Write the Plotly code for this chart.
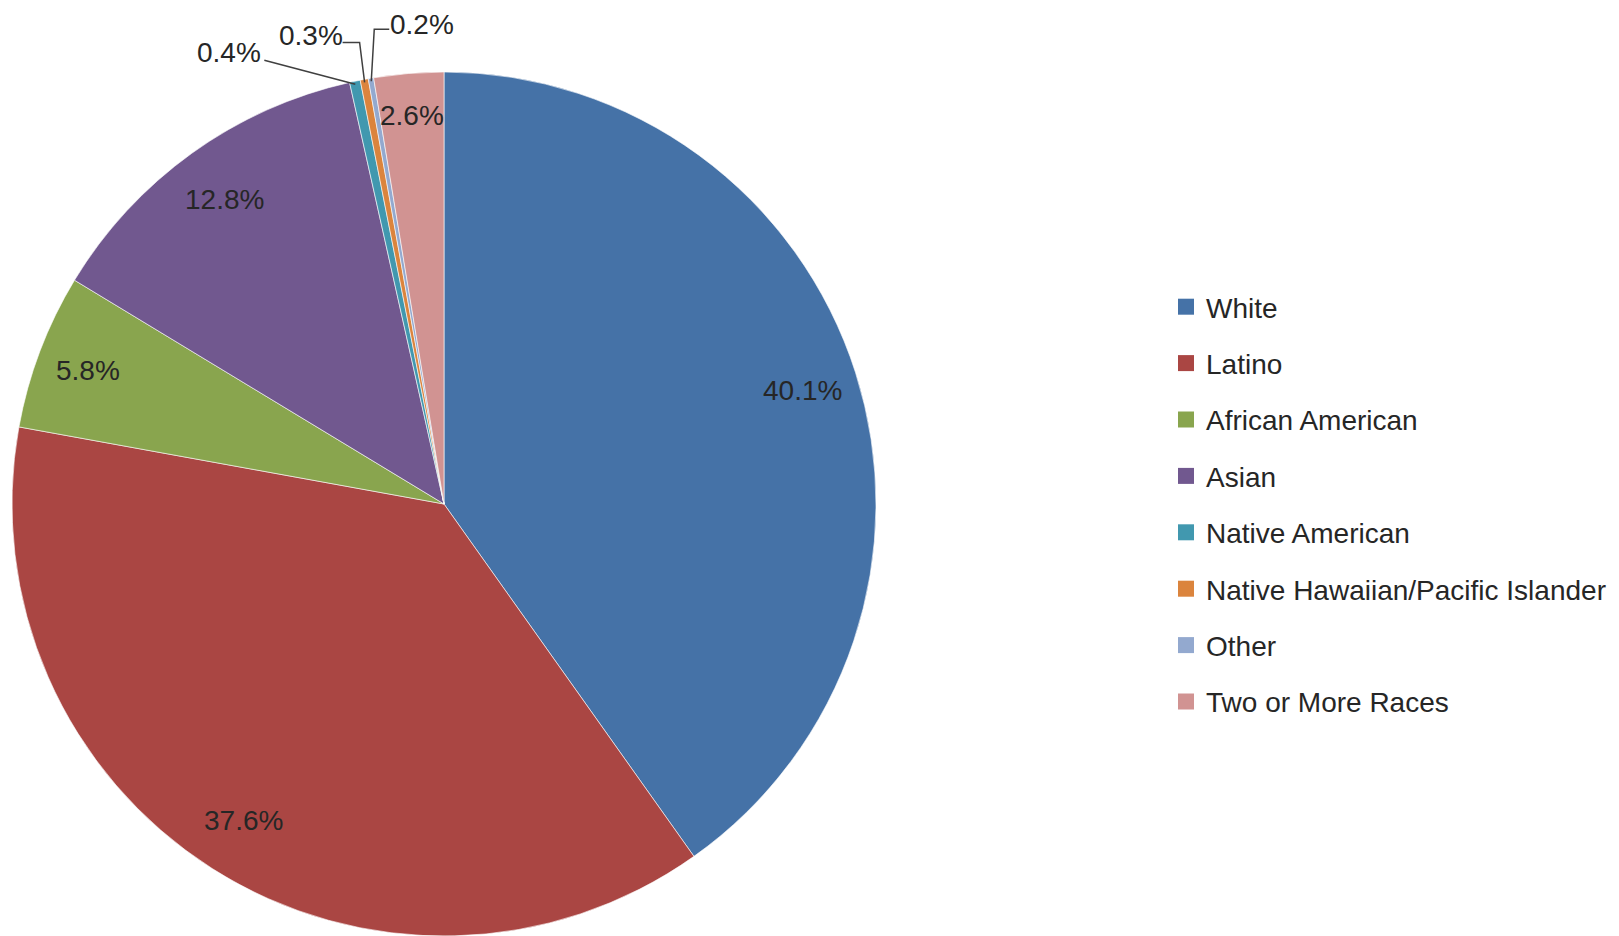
import math
import plotly.graph_objects as go

categories = ["White", "Latino", "African American", "Asian", "Native American",
              "Native Hawaiian/Pacific Islander", "Other", "Two or More Races"]
values = [40.1, 37.6, 5.8, 12.8, 0.4, 0.3, 0.2, 2.6]
colors = ["#4572A7", "#AA4643", "#89A54E", "#71588F", "#4198AF",
          "#DB843D", "#93A9CF", "#D19392"]

OFF = 8                      # default page body margin
W, H = 1619 - OFF, 936 - OFF  # figure size
CX, CY, R = 444, 505, 430    # pie centre / radius in screen pixels
FONT = "Liberation Sans"
TXT = "#262626"

def px(x):
    return (x - OFF) / W

def py(y):
    return 1 - (y - OFF) / H

fig = go.Figure()
fig.add_trace(go.Pie(
    labels=categories, values=values, sort=False, direction="clockwise",
    rotation=0, textinfo="none", hoverinfo="label+percent",
    marker=dict(colors=colors, line=dict(color="rgba(255,255,255,0.6)", width=1)),
    domain=dict(x=[px(CX - R - 3), px(CX + R + 3)],
                y=[max(0, py(CY + R + 3)), py(CY - R - 3)]),
    showlegend=False,
))

# legend through dummy traces, one group each so tracegroupgap spaces them
for i, (c, col) in enumerate(zip(categories, colors)):
    fig.add_trace(go.Scatter(
        x=[None], y=[None], mode="markers", name=c, legendgroup=f"g{i}",
        marker=dict(symbol="square", size=16, color=col), showlegend=True,
    ))

total = sum(values)
cum = 0.0
annotations = []
shapes = []
small_layout = {
    # text offset, leader path offsets (pixels relative to slice edge point)
    4: ((-126, -32), [(-91, -24)]),
    5: ((-54, -47), [(-5, -40), (-22, -40)]),
    6: ((51, -57), [(3, -52), (18, -52)]),
}
radius_frac = {1: 0.87, 2: 0.885, 7: 0.91}
for i, v in enumerate(values):
    mid = (cum + v / 2) / total
    cum += v
    th = 2 * math.pi * mid
    s, c = math.sin(th), -math.cos(th)
    label = f"{v:.1f}%"
    if i in small_layout:
        ex, ey = CX + R * s, CY + R * c
        (tx, ty), path = small_layout[i]
        x, y = ex + tx, ey + ty
        pts = [(ex, ey)] + [(ex + a, ey + b) for a, b in path]
        d = "M " + " L ".join(f"{px(a)},{py(b)}" for a, b in pts)
        shapes.append(dict(type="path", path=d, xref="paper", yref="paper",
                           line=dict(color="#404040", width=1.5)))
    else:
        f = radius_frac.get(i, 0.875)
        x, y = CX + f * R * s, CY + f * R * c
    annotations.append(dict(x=px(x), y=py(y), xref="paper", yref="paper",
                            xanchor="center", yanchor="middle", borderpad=0,
                            text=label, showarrow=False,
                            font=dict(size=28, family=FONT, color=TXT)))

fig.update_layout(
    width=W, height=H, autosize=False,
    margin=dict(l=0, r=0, t=0, b=0),
    paper_bgcolor="white", plot_bgcolor="white",
    xaxis=dict(visible=False), yaxis=dict(visible=False),
    font=dict(family=FONT, size=28, color=TXT),
    legend=dict(x=px(1166), y=py(282), xanchor="left", yanchor="top",
                font=dict(size=28, family=FONT, color=TXT),
                tracegroupgap=17, itemclick=False, bgcolor="rgba(0,0,0,0)"),
    annotations=annotations, shapes=shapes,
)

fig.write_html("out.html")
